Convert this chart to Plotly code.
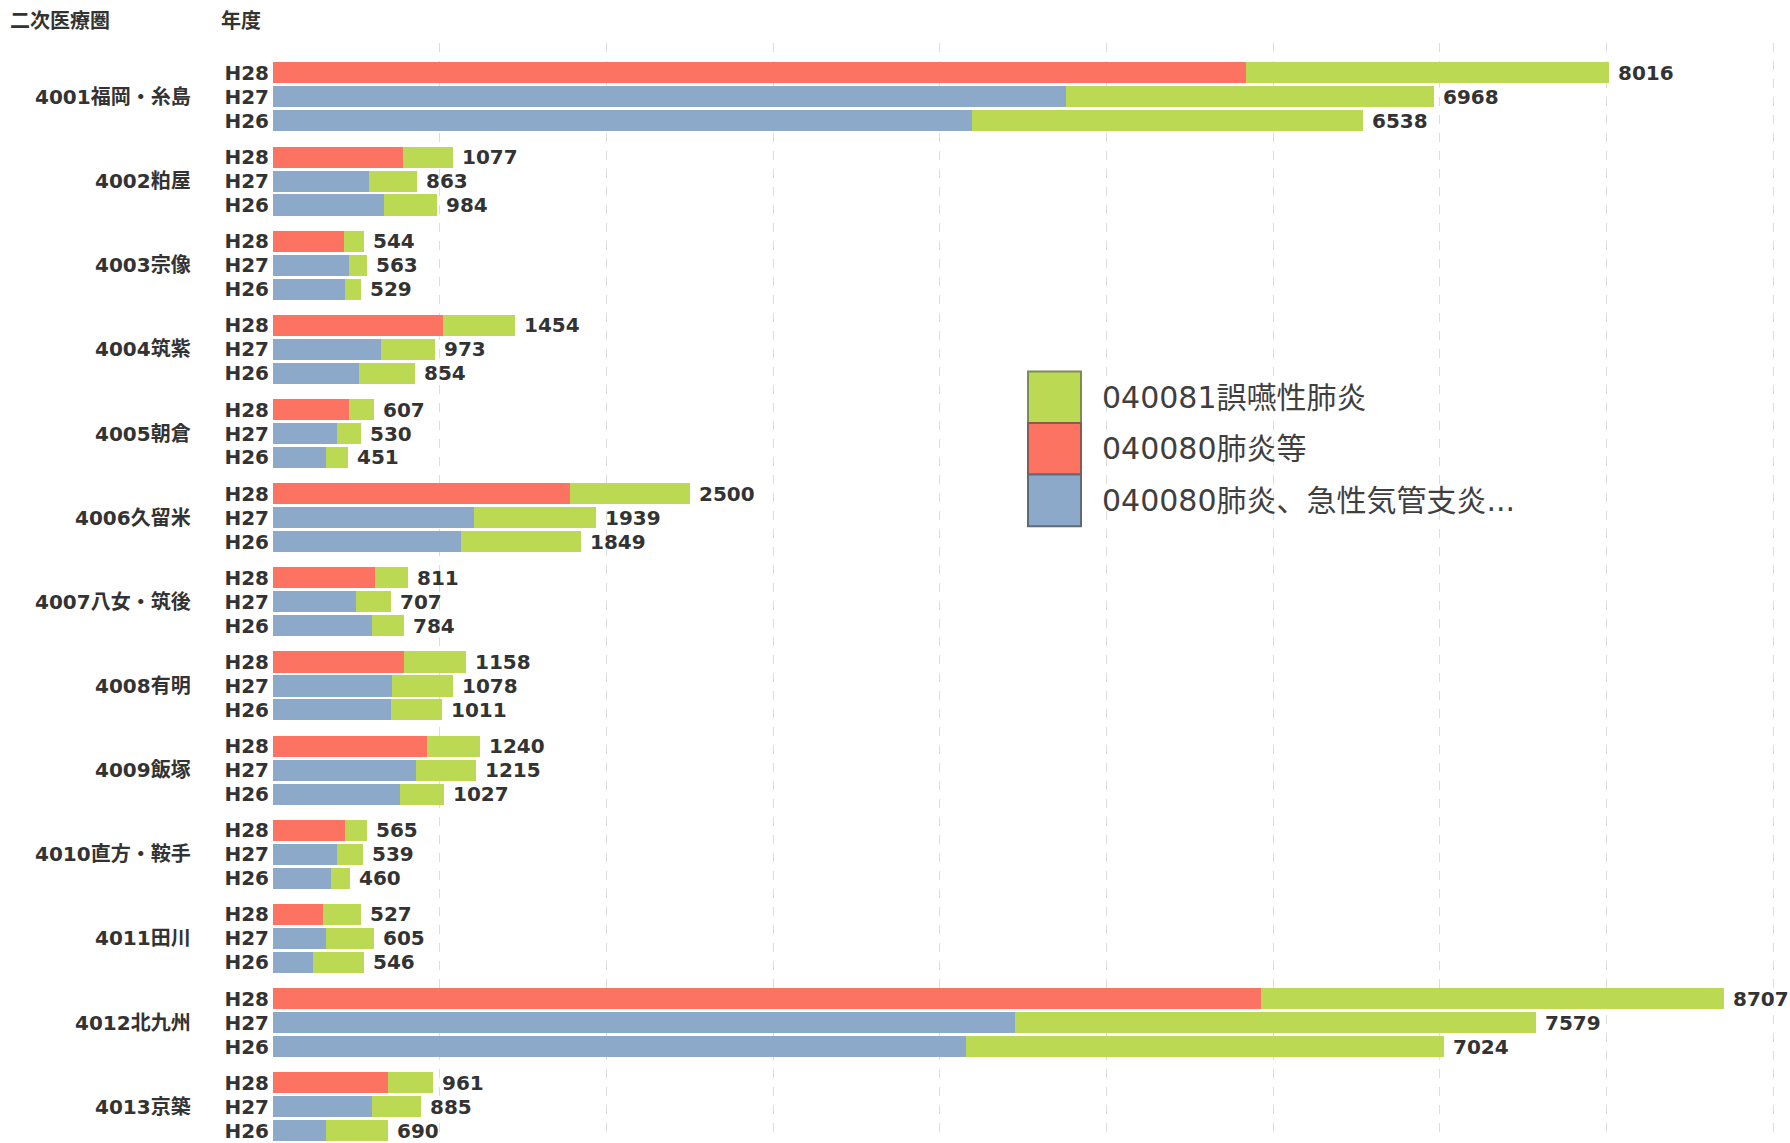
import plotly.graph_objects as go

# ---------------- data ----------------
regions = ["4001福岡・糸島", "4002粕屋", "4003宗像", "4004筑紫", "4005朝倉", "4006久留米",
           "4007八女・筑後", "4008有明", "4009飯塚", "4010直方・鞍手", "4011田川", "4012北九州", "4013京築"]
years = ["H28", "H27", "H26"]

total_h28 = [8016, 1077, 544, 1454, 607, 2500, 811, 1158, 1240, 565, 527, 8707, 961]
total_h27 = [6968, 863, 563, 973, 530, 1939, 707, 1078, 1215, 539, 605, 7579, 885]
total_h26 = [6538, 984, 529, 854, 451, 1849, 784, 1011, 1027, 460, 546, 7024, 690]

# first segment: H28 -> "040080肺炎等" (red), H27/H26 -> "040080肺炎、急性気管支炎..." (blue)
pneu_h28 = [5840, 778, 426, 1020, 458, 1784, 612, 787, 925, 430, 301, 5926, 690]
pneu_h27 = [4758, 578, 458, 649, 384, 1206, 497, 716, 858, 384, 320, 4454, 594]
pneu_h26 = [4192, 665, 433, 513, 320, 1125, 594, 709, 762, 345, 239, 4156, 320]

legend_labels = ["040081誤嚥性肺炎", "040080肺炎等", "040080肺炎、急性気管支炎..."]
header_region = "二次医療圏"
header_year = "年度"

# ---------------- style ----------------
C_GREEN = "#bcd954"
C_RED = "#fd7362"
C_BLUE = "#8ca9ca"
FONT = "DejaVu Sans, Noto Sans CJK JP, sans-serif"
W, H = 1790, 1143
ML, MT = 273, 43
PW, PH = W - ML, H - MT
G = 3.5125  # group pitch in bar slots

totals = {"H28": total_h28, "H27": total_h27, "H26": total_h26}
pneu = {"H28": pneu_h28, "H27": pneu_h27, "H26": pneu_h26}

ypos, tot, red, blue, green, ylab = [], [], [], [], [], []
for g in range(len(regions)):
    for j, yr in enumerate(years):
        ypos.append(g * G + j)
        t = totals[yr][g]
        p = pneu[yr][g]
        tot.append(t)
        ylab.append(yr)
        if yr == "H28":
            red.append(p); blue.append(0)
        else:
            red.append(0); blue.append(p)
        green.append(t - p)

fig = go.Figure()
bw = 0.88
fig.add_trace(go.Bar(y=ypos, x=blue, orientation="h", marker=dict(color=C_BLUE, line=dict(width=0)),
                     width=bw, name=legend_labels[2], showlegend=False))
fig.add_trace(go.Bar(y=ypos, x=red, orientation="h", marker=dict(color=C_RED, line=dict(width=0)),
                     width=bw, name=legend_labels[1], showlegend=False))
fig.add_trace(go.Bar(y=ypos, x=green, orientation="h", marker=dict(color=C_GREEN, line=dict(width=0)),
                     width=bw, name=legend_labels[0], showlegend=False))

def px_x(px):
    return (px - ML) / PW

def px_y(py):
    return (H - py) / PH

annotations = []
# value labels at bar ends
for yv, t in zip(ypos, tot):
    annotations.append(dict(x=t, y=yv, xref="x", yref="y", text=str(t), showarrow=False,
                            xanchor="left", yanchor="middle", xshift=7,
                            font=dict(family=FONT, size=20, color="#333333", weight="bold")))
for g, r in enumerate(regions):
    annotations.append(dict(x=px_x(193), y=g * G + 1, xref="paper", yref="y", text=r,
                            showarrow=False, xanchor="right", yanchor="middle",
                            font=dict(family=FONT, size=20, color="#333333", weight="bold")))
annotations.append(dict(x=px_x(8), y=px_y(21), xref="paper", yref="paper", text=header_region,
                        showarrow=False, xanchor="left", yanchor="middle",
                        font=dict(family=FONT, size=20, color="#333333", weight="bold")))
annotations.append(dict(x=px_x(219), y=px_y(21), xref="paper", yref="paper", text=header_year,
                        showarrow=False, xanchor="left", yanchor="middle",
                        font=dict(family=FONT, size=20, color="#333333", weight="bold")))

# legend (custom, large swatches)
shapes = []
sw_cols = [C_GREEN, C_RED, C_BLUE]
sw_lines = ["#7f8a5a", "#8a5a52", "#5f6a78"]
top = 372
hgt = 51.7
for i, (lab, col, lc) in enumerate(zip(legend_labels, sw_cols, sw_lines)):
    y0 = top + i * hgt
    y1 = y0 + hgt
    shapes.append(dict(type="rect", xref="paper", yref="paper", x0=px_x(1028), x1=px_x(1081),
                       y0=px_y(y1), y1=px_y(y0), fillcolor=col, line=dict(color=lc, width=2), layer="above"))
    annotations.append(dict(x=px_x(1100), y=px_y((y0 + y1) / 2), xref="paper", yref="paper", text=lab,
                            showarrow=False, xanchor="left", yanchor="middle",
                            font=dict(family=FONT, size=30, color="#3f3f3f")))

fig.update_layout(
    width=W, height=H,
    margin=dict(l=ML, r=0, t=MT, b=0, pad=0),
    barmode="stack",
    plot_bgcolor="white", paper_bgcolor="white",
    showlegend=False,
    annotations=annotations,
    shapes=shapes,
    xaxis=dict(range=[0, PW / 0.16667], showticklabels=False, ticks="", dtick=1000, tick0=0,
               showgrid=True, gridcolor="#dcdcdc", griddash="dash", gridwidth=1,
               zeroline=False, showline=False, fixedrange=True),
    yaxis=dict(range=[12 * G + 2 + 0.43, -1.25], tickmode="array", tickvals=ypos, ticktext=ylab,
               showgrid=False, zeroline=False, showline=False, ticks="", ticklabelstandoff=3,
               ticklabeloverflow="allow",
               tickfont=dict(family=FONT, size=20, color="#333333", weight="bold"), fixedrange=True),
    font=dict(family=FONT),
)

fig.write_html("out.html")
